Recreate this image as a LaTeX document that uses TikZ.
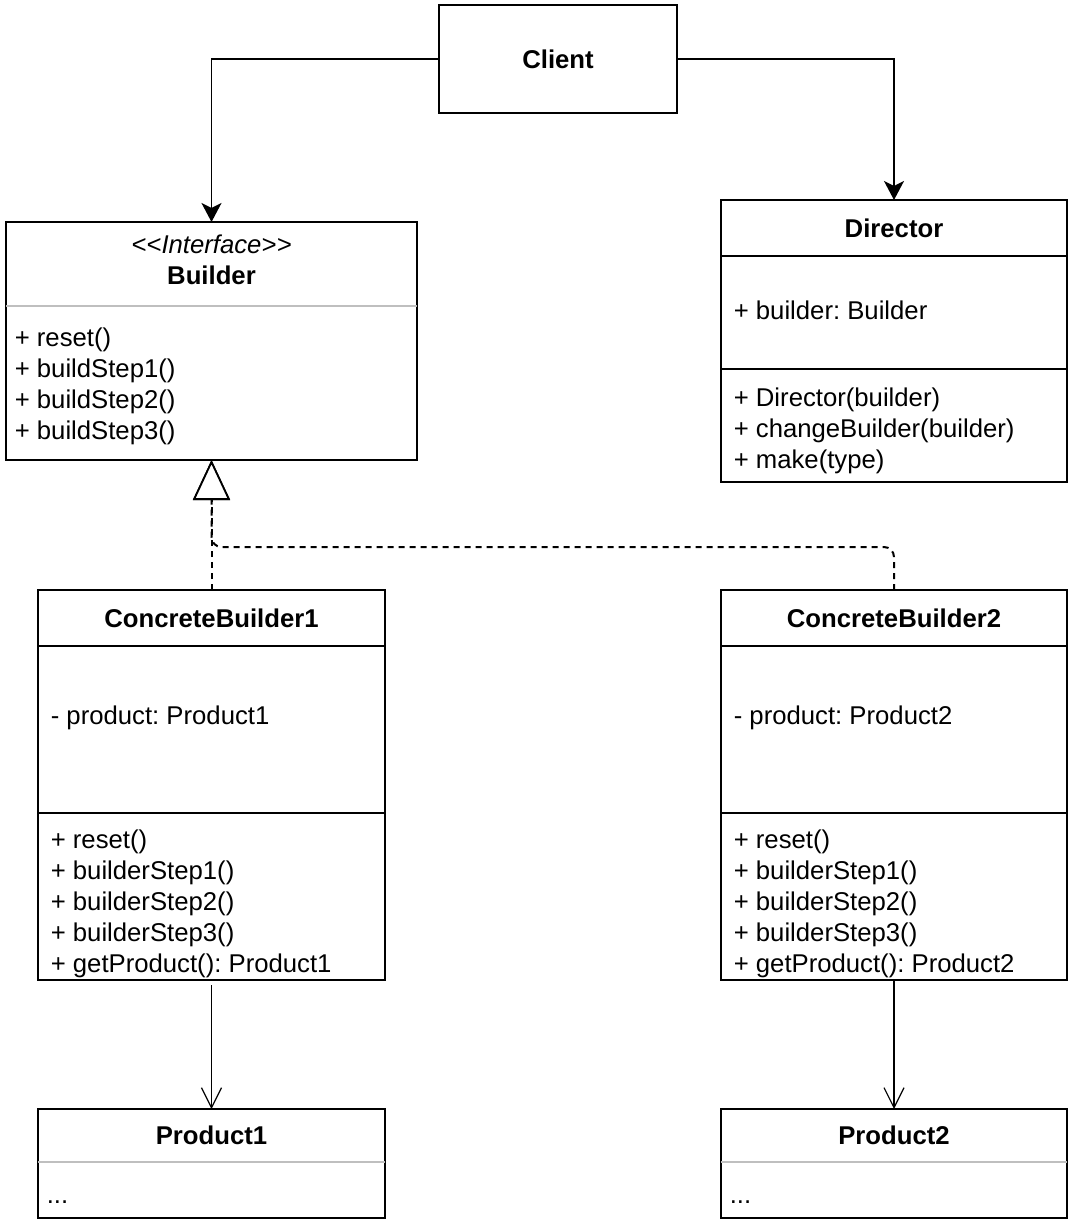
\documentclass[tikz,border=0pt]{standalone}
\usepackage{fontspec}
\setmainfont{Liberation Sans}
\usetikzlibrary{positioning,arrows.meta}
\newcommand\umlfont{\fontsize{25.7}{31}\selectfont\frenchspacing}

\begin{document}
\begin{tikzpicture}[x=1pt,y=-1pt,line width=1.6pt,
 every node/.style={font=\umlfont},
 box/.style={draw, anchor=north west, outer sep=0pt, inner sep=0pt, font=\umlfont\bfseries},
 members/.style={anchor=base west, inner sep=0pt, align=left},
 sep/.style={draw=black!25},
 uses/.style={-{Stealth[length=19pt,width=20pt,inset=5pt]}},
 impl/.style={line width=2pt, dash pattern=on 6pt off 5pt, -{Triangle[open,length=40pt,width=37pt,fill=white,line width=1.8pt]}},
 makes/.style={line width=1.2pt, -{Straight Barb[length=20pt,width=20pt]}}]
\useasboundingbox (0,0) rectangle (1072,1224);

\node[box, minimum width=238, minimum height=108] (client) at (439,5) {Client};

\node[box, minimum width=411, minimum height=84] (builderHead) at (6,222) {};
\node[box, minimum width=411, minimum height=154, below=0pt of builderHead] (builderBody) {};
\draw[sep] (builderHead.south west) -- (builderHead.south east);
\node[anchor=base, align=center] (builderName) at ([yshift=-62pt]builderHead.north) {\textit{<\kern0pt<Interface>\kern0pt>}\\\textbf{Builder}};
\node[members] (builderOps) at ([xshift=8pt,yshift=-133pt]builderBody.north west) {+ reset()\\+ buildStep1()\\+ buildStep2()\\+ buildStep3()};

\node[box, minimum width=346, minimum height=56] (directorHead) at (721,200) {Director};
\node[box, minimum width=346, minimum height=113, below=0pt of directorHead] (directorAttr) {};
\node[box, minimum width=346, minimum height=113, below=0pt of directorAttr] (directorOps) {};
\node[members] (directorAttrText) at ([xshift=12pt,yshift=-63pt]directorAttr.north west) {+ builder: Builder};
\node[members] (directorOpsText) at ([xshift=12pt,yshift=-99pt]directorOps.north west) {+ Director(builder)\\+ changeBuilder(builder)\\+ make(type)};

\node[box, minimum width=347, minimum height=56] (cb1Head) at (38,590) {ConcreteBuilder1};
\node[box, minimum width=347, minimum height=167, below=0pt of cb1Head] (cb1Attr) {};
\node[box, minimum width=347, minimum height=167, below=0pt of cb1Attr] (cb1Ops) {};
\node[members] (cb1AttrText) at ([xshift=12pt,yshift=-78pt]cb1Attr.north west) {- product: Product1};
\node[members] (cb1OpsText) at ([xshift=12pt,yshift=-159pt]cb1Ops.north west) {+ reset()\\+ builderStep1()\\+ builderStep2()\\+ builderStep3()\\+ getProduct(): Product1};

\node[box, minimum width=346, minimum height=56] (cb2Head) at (721,590) {ConcreteBuilder2};
\node[box, minimum width=346, minimum height=167, below=0pt of cb2Head] (cb2Attr) {};
\node[box, minimum width=346, minimum height=167, below=0pt of cb2Attr] (cb2Ops) {};
\node[members] (cb2AttrText) at ([xshift=12pt,yshift=-78pt]cb2Attr.north west) {- product: Product2};
\node[members] (cb2OpsText) at ([xshift=12pt,yshift=-159pt]cb2Ops.north west) {+ reset()\\+ builderStep1()\\+ builderStep2()\\+ builderStep3()\\+ getProduct(): Product2};

\node[box, minimum width=347, minimum height=53] (product1Head) at (38,1109) {Product1};
\node[box, minimum width=347, minimum height=56, below=0pt of product1Head] (product1Body) {};
\draw[sep] (product1Head.south west) -- (product1Head.south east);
\node[members] (product1Text) at ([xshift=8pt,yshift=-41pt]product1Body.north west) {...};

\node[box, minimum width=346, minimum height=53] (product2Head) at (721,1109) {Product2};
\node[box, minimum width=346, minimum height=56, below=0pt of product2Head] (product2Body) {};
\draw[sep] (product2Head.south west) -- (product2Head.south east);
\node[members] (product2Text) at ([xshift=8pt,yshift=-41pt]product2Body.north west) {...};

\draw[uses] (client.west) -| (builderHead.north);
\draw[uses] (client.east) -| (directorHead.north);
\draw[impl] (cb1Head.north) -- (builderBody.south);
\draw[impl, rounded corners=10pt] (cb2Head.north) -- ++(0,-43) -| (builderBody.south);
\draw[makes, shorten <=5pt] (cb1Ops.south) -- (product1Head.north);
\draw[makes] (cb2Ops.south) -- (product2Head.north);
\end{tikzpicture}
\end{document}
